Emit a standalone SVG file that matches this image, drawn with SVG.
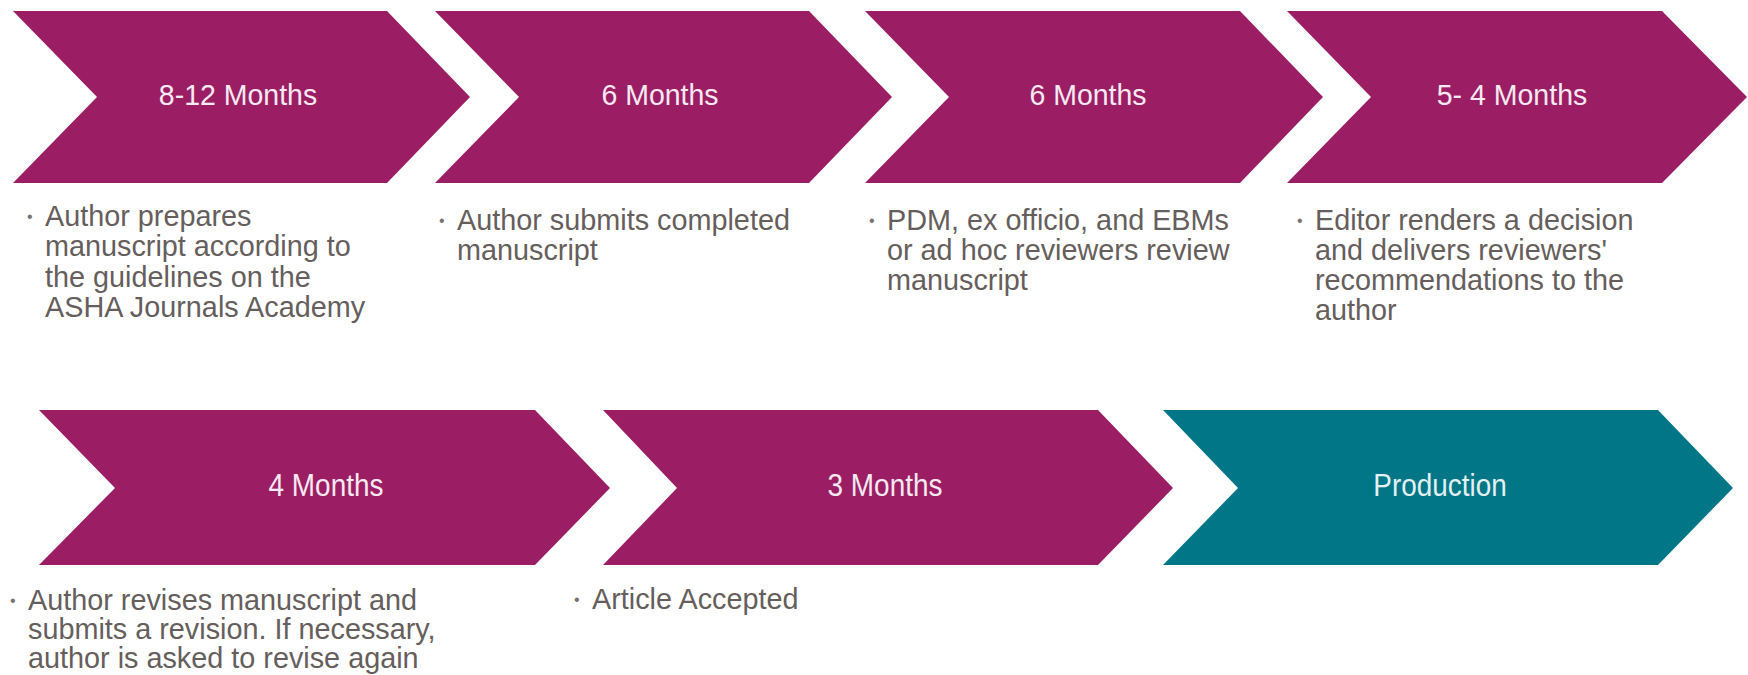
<svg xmlns="http://www.w3.org/2000/svg" width="1748" height="675" viewBox="0 0 1748 675">
<style>
.pu{fill:#9b1e64}
.te{fill:#007687}
.hd{font-family:"Liberation Sans",Arial,sans-serif;font-size:28.5px;fill:#f6e9f1;text-anchor:middle}
.hdt{fill:#e3f1f3}
.bd{font-family:"Liberation Sans",Arial,sans-serif;font-size:28.8px;fill:#655e5c}
.bl{font-family:"Liberation Sans",Arial,sans-serif;font-size:16px;fill:#7a7270}
</style>
<rect width="1748" height="675" fill="#ffffff"/>
<g id="connectors"/>
<g id="step1">
<polygon class="pu" points="13,11 387,11 470,97 387,183 13,183 97,97"/>
<text class="hd" transform="translate(238,105) scale(1,1.06)">8-12 Months</text>
<text class="bl" x="27" y="222">•</text>
<text class="bd" x="45" y="226">Author prepares<tspan x="45" dy="30.3">manuscript according to</tspan><tspan x="45" dy="30.3">the guidelines on the</tspan><tspan x="45" dy="30.3">ASHA Journals Academy</tspan></text>
</g>
<g id="step2">
<polygon class="pu" points="435,11 809,11 892,97 809,183 435,183 519,97"/>
<text class="hd" transform="translate(660,105) scale(1,1.06)">6 Months</text>
<text class="bl" x="439" y="226">•</text>
<text class="bd" x="457" y="230">Author submits completed<tspan x="457" dy="30">manuscript</tspan></text>
</g>
<g id="step3">
<polygon class="pu" points="865,11 1240,11 1323,97 1240,183 865,183 949,97"/>
<text class="hd" transform="translate(1088,105) scale(1,1.06)">6 Months</text>
<text class="bl" x="869" y="226">•</text>
<text class="bd" x="887" y="230">PDM, ex officio, and EBMs<tspan x="887" dy="30">or ad hoc reviewers review</tspan><tspan x="887" dy="30">manuscript</tspan></text>
</g>
<g id="step4">
<polygon class="pu" points="1287,11 1662,11 1747,97 1662,183 1287,183 1371,97"/>
<text class="hd" transform="translate(1512,105) scale(1,1.06)">5- 4 Months</text>
<text class="bl" x="1297" y="226">•</text>
<text class="bd" x="1315" y="230">Editor renders a decision<tspan x="1315" dy="30">and delivers reviewers'</tspan><tspan x="1315" dy="30">recommendations to the</tspan><tspan x="1315" dy="30">author</tspan></text>
</g>
<g id="step5">
<polygon class="pu" points="39,410 535,410 610,488 535,565 39,565 115,488"/>
<text class="hd" transform="translate(326,496) scale(0.98,1.1)">4 Months</text>
<text class="bl" x="10" y="606">•</text>
<text class="bd" x="28" y="610">Author revises manuscript and<tspan x="28" dy="29">submits a revision. If necessary,</tspan><tspan x="28" dy="29">author is asked to revise again</tspan></text>
</g>
<g id="step6">
<polygon class="pu" points="603,410 1098,410 1173,488 1098,565 603,565 677,488"/>
<text class="hd" transform="translate(885,496) scale(0.98,1.1)">3 Months</text>
<text class="bl" x="574" y="605">•</text>
<text class="bd" x="592" y="609">Article Accepted</text>
</g>
<g id="step7">
<polygon class="te" points="1163,410 1658,410 1733,488 1658,565 1163,565 1238,488"/>
<text class="hd hdt" transform="translate(1440,496) scale(0.98,1.1)">Production</text>
</g>
</svg>
